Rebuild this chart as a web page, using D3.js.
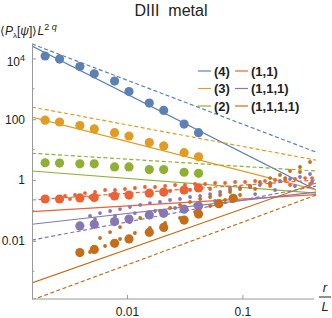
<!DOCTYPE html>
<html>
<head>
<meta charset="utf-8">
<script src="https://cdn.jsdelivr.net/npm/d3@7"></script>
<style>
  body { margin: 0; background: #fff; }
  svg { font-family: "Liberation Sans", Arial, sans-serif; }
  .axis path, .axis line { stroke: #999; }
  .axis text { fill: #222; font-size: 12px; }
</style>
</head>
<body>
<svg id="chart" width="332" height="318"></svg>
<script>
// r/L positions of the big points
const rL = [0.00195, 0.0026, 0.0039, 0.0052, 0.0078, 0.0104, 0.0156, 0.0208, 0.03125, 0.0417, 0.0625, 0.0833];

const seriesNames = ["(4)", "(3)", "(2)", "(1,1)", "(1,1,1)", "(1,1,1,1)"];
const colors = ["#5E81B5", "#E19C24", "#8FB032", "#EB6235", "#8778B3", "#C56E1A"];

// big points, one per r/L position (null = no point)
const big4 = [12000, 9500, 5400, 3100, 1800, 810, 340, 195, 69, 36];
const big3 = [93, 81, 62, 48, 36, 28, 17, 13.2, 7.9, 5.8];
const big2 = [3.7, 3.6, 3.4, 3.4, 2.7, 2.7, 2.2, 2.2, 1.8, 1.66];
const big11 = [0.237, 0.237, 0.257, 0.266, 0.298, 0.32, 0.37, 0.40, 0.469, 0.546];
const big111 = [null, null, 0.031, 0.035, 0.043, 0.052, 0.071, 0.080, 0.11, 0.14];
const big1111 = [null, null, 0.0041, 0.0052, 0.0083, 0.0115, 0.019, 0.0275, 0.048, 0.076, 0.166, 0.25];

// small points (r/L, value)
const small11 = [[0.0029,0.298],[0.00354,0.321],[0.00432,0.373],[0.00528,0.403],[0.00645,0.469],[0.00787,0.469],
  [0.0096,0.506],[0.0117,0.546],[0.0143,0.589],[0.0175,0.589],[0.0214,0.635],[0.0261,0.685],[0.0318,0.685],
  [0.0389,0.739],[0.0475,0.739],[0.058,0.797],[0.0708,0.797],[0.0865,0.86],[0.1055,0.86],[0.129,0.927],
  [0.157,0.927],[0.192,1.0],[0.235,1.0],[0.286,1.08],[0.35,1.16],[0.402,1.16],
  [0.0032,0.237],[0.00478,0.276],[0.00713,0.321],[0.0106,0.346],[0.0158,0.373],[0.0236,0.435],[0.0352,0.469],
  [0.0525,0.506],[0.0782,0.546],[0.1167,0.589],[0.174,0.635],[0.259,0.685],[0.386,0.739]];
const small111 = [[0.00478,0.0654],[0.00583,0.082],[0.00713,0.0955],[0.0087,0.111],[0.0106,0.129],[0.013,0.151],
  [0.0158,0.175],[0.0193,0.189],[0.0236,0.22],[0.0288,0.237],[0.0352,0.276],[0.043,0.298],[0.0525,0.346],
  [0.0641,0.403],[0.0782,0.469],[0.0955,0.546],[0.1167,0.589],[0.142,0.685],[0.174,0.797],[0.212,0.927],
  [0.259,1.08],[0.316,1.255],[0.386,1.575],
  [0.00528,0.052],[0.00787,0.0654],[0.0117,0.082],[0.0175,0.0955],[0.0261,0.12],[0.0389,0.151],[0.058,0.204],
  [0.0865,0.276],[0.129,0.346],[0.192,0.469],[0.286,0.635],[0.402,0.86]];
const small1111 = [[0.00583,0.01236],[0.00713,0.01946],[0.0087,0.0284],[0.0106,0.0415],[0.013,0.0562],[0.0158,0.0761],
  [0.0193,0.0955],[0.0236,0.12],[0.0288,0.151],[0.0352,0.189],[0.043,0.237],[0.0525,0.276],[0.0641,0.321],
  [0.0782,0.403],[0.0955,0.506],[0.1167,0.635],[0.142,0.86],[0.174,1.16],[0.212,1.46],[0.259,1.98],
  [0.316,2.68],[0.386,3.91],
  [0.00478,0.00428],[0.00645,0.00675],[0.0087,0.01146],[0.0117,0.0181],[0.0158,0.0264],[0.0214,0.0385],
  [0.0288,0.0562],[0.0389,0.0886],[0.0525,0.1395],[0.0708,0.22],[0.0955,0.321],[0.129,0.506],[0.174,0.739],
  [0.235,1.16],[0.316,1.83]];

// fit lines: value at left and right end of the r/L range
const lineX = [0.0015, 0.435];
const solid4 = [25500, 0.47], dashed4 = [29800, 8.3];
const solid3 = [118, 0.47], dashed3 = [251, 4.5];
const solid2 = [1.98, 0.37], dashed2 = [7.6, 1.98];
const solid11 = [0.091, 0.33], dashed11 = [0.22, 1.0];
const solid111 = [0.035, 0.40], dashed111 = [0.0106, 0.63];
const solid1111 = [0.00041, 0.80], dashed1111 = [0.000113, 0.32];

const yTicks = [0.01, 1, 100, 10000];
const yMinor = [0.001, 0.1, 10, 1000];
const xTicks = [0.01, 0.1];

const svg = d3.select("#chart");
const mLeft = 32, mRight = 316, mTop = 43, mBottom = 299;

const x = d3.scaleLog().domain(lineX).range([mLeft, mRight]);
const y = d3.scaleLog().domain([0.000122, 32100]).range([mBottom, mTop]);

svg.append("defs").append("clipPath").attr("id", "clip")
  .append("rect").attr("x", mLeft).attr("y", mTop).attr("width", mRight - mLeft).attr("height", mBottom - mTop);

const plot = svg.append("g").attr("clip-path", "url(#clip)");

const bigs = [big4, big3, big2, big11, big111, big1111];
const smalls = [null, null, null, small11, small111, small1111];
const solids = [solid4, solid3, solid2, solid11, solid111, solid1111];
const dashes = [dashed4, dashed3, dashed2, dashed11, dashed111, dashed1111];

// lines
solids.forEach((s, i) => {
  plot.append("line")
    .attr("x1", x(lineX[0])).attr("y1", y(s[0]))
    .attr("x2", x(lineX[1])).attr("y2", y(s[1]))
    .attr("stroke", colors[i]).attr("stroke-width", 1.2);
});
dashes.forEach((s, i) => {
  plot.append("line")
    .attr("x1", x(lineX[0])).attr("y1", y(s[0]))
    .attr("x2", x(lineX[1])).attr("y2", y(s[1]))
    .attr("stroke", colors[i]).attr("stroke-width", 1.2)
    .attr("stroke-dasharray", "4,2.5");
});

// small points
smalls.forEach((s, i) => {
  if (!s) return;
  plot.append("g").selectAll("circle")
    .data(s).enter().append("circle")
    .attr("cx", d => x(d[0])).attr("cy", d => y(d[1]))
    .attr("r", 1.9).attr("fill", colors[i]);
});

// big points
bigs.forEach((s, i) => {
  const pts = s.map((v, j) => [rL[j], v]).filter(d => d[1] != null);
  plot.append("g").selectAll("circle")
    .data(pts).enter().append("circle")
    .attr("cx", d => x(d[0])).attr("cy", d => y(d[1]))
    .attr("r", 4.6).attr("fill", colors[i]);
});

// axes
const yAxis = svg.append("g").attr("class", "axis")
  .attr("transform", `translate(${mLeft},0)`)
  .call(d3.axisLeft(y).tickValues(yTicks).tickSize(-4).tickSizeOuter(0).tickPadding(7)
    .tickFormat(d => d === 10000 ? "" : d3.format("~g")(d)));
yAxis.selectAll(".tick").filter(d => d === 10000).select("text")
  .call(t => { t.append("tspan").text("10"); t.append("tspan").attr("dy", -5).attr("font-size", 9).text("4"); });
yAxis.selectAll(".tick").filter(d => d === 10000).select("text").attr("dy", "0.55em");
yAxis.selectAll(".minor").data(yMinor).enter().append("line")
  .attr("x1", 0).attr("x2", 2.5).attr("y1", d => y(d)).attr("y2", d => y(d)).attr("stroke", "#999");

const xAxis = svg.append("g").attr("class", "axis")
  .attr("transform", `translate(0,${mBottom})`)
  .call(d3.axisBottom(x).tickValues(xTicks).tickSize(-4).tickSizeOuter(0).tickPadding(8)
    .tickFormat(d3.format("~g")));
xAxis.select(".domain").attr("d", `M${mLeft},0H314`);

// y label
const yl = svg.append("text").attr("x", 0).attr("y", 35).attr("font-size", 12).attr("fill", "#222");
yl.append("tspan").text("\u27E8");
yl.append("tspan").attr("font-style", "italic").text("P");
yl.append("tspan").attr("font-size", 8).attr("dy", 3).text("\u03BB");
yl.append("tspan").attr("dy", -3).text("[");
yl.append("tspan").attr("font-style", "italic").text("\u03C8");
yl.append("tspan").text("]\u27E9");
yl.append("tspan").attr("font-style", "italic").text("L");
yl.append("tspan").attr("font-size", 9).attr("dy", -5).text("2 ");
yl.append("tspan").attr("font-size", 9).attr("font-style", "italic").text("q");

// x label
svg.append("text").attr("x", 325).attr("y", 292).attr("text-anchor", "middle")
  .attr("font-size", 13).attr("font-style", "italic").attr("fill", "#222").text("r");
svg.append("line").attr("x1", 319).attr("x2", 331).attr("y1", 297).attr("y2", 297).attr("stroke", "#222");
svg.append("text").attr("x", 325).attr("y", 311).attr("text-anchor", "middle")
  .attr("font-size", 13).attr("font-style", "italic").attr("fill", "#222").text("L");

// title
svg.append("text").attr("x", 171).attr("y", 16).attr("text-anchor", "middle")
  .attr("font-size", 16).attr("fill", "#222").attr("xml:space", "preserve").text("DIII  metal");

// legend
const legend = svg.append("g");
seriesNames.forEach((name, i) => {
  const col = Math.floor(i / 3), row = i % 3;
  const lx = col === 0 ? 198 : 235, ly = 71 + row * 17.5;
  legend.append("line").attr("x1", lx).attr("x2", lx + 13).attr("y1", ly).attr("y2", ly)
    .attr("stroke", colors[i]).attr("stroke-width", 1.2);
  legend.append("text").attr("x", lx + 16).attr("y", ly + 4.5)
    .attr("font-size", 13).attr("font-weight", "bold").attr("fill", "#222").text(name);
});
</script>
</body>
</html>
